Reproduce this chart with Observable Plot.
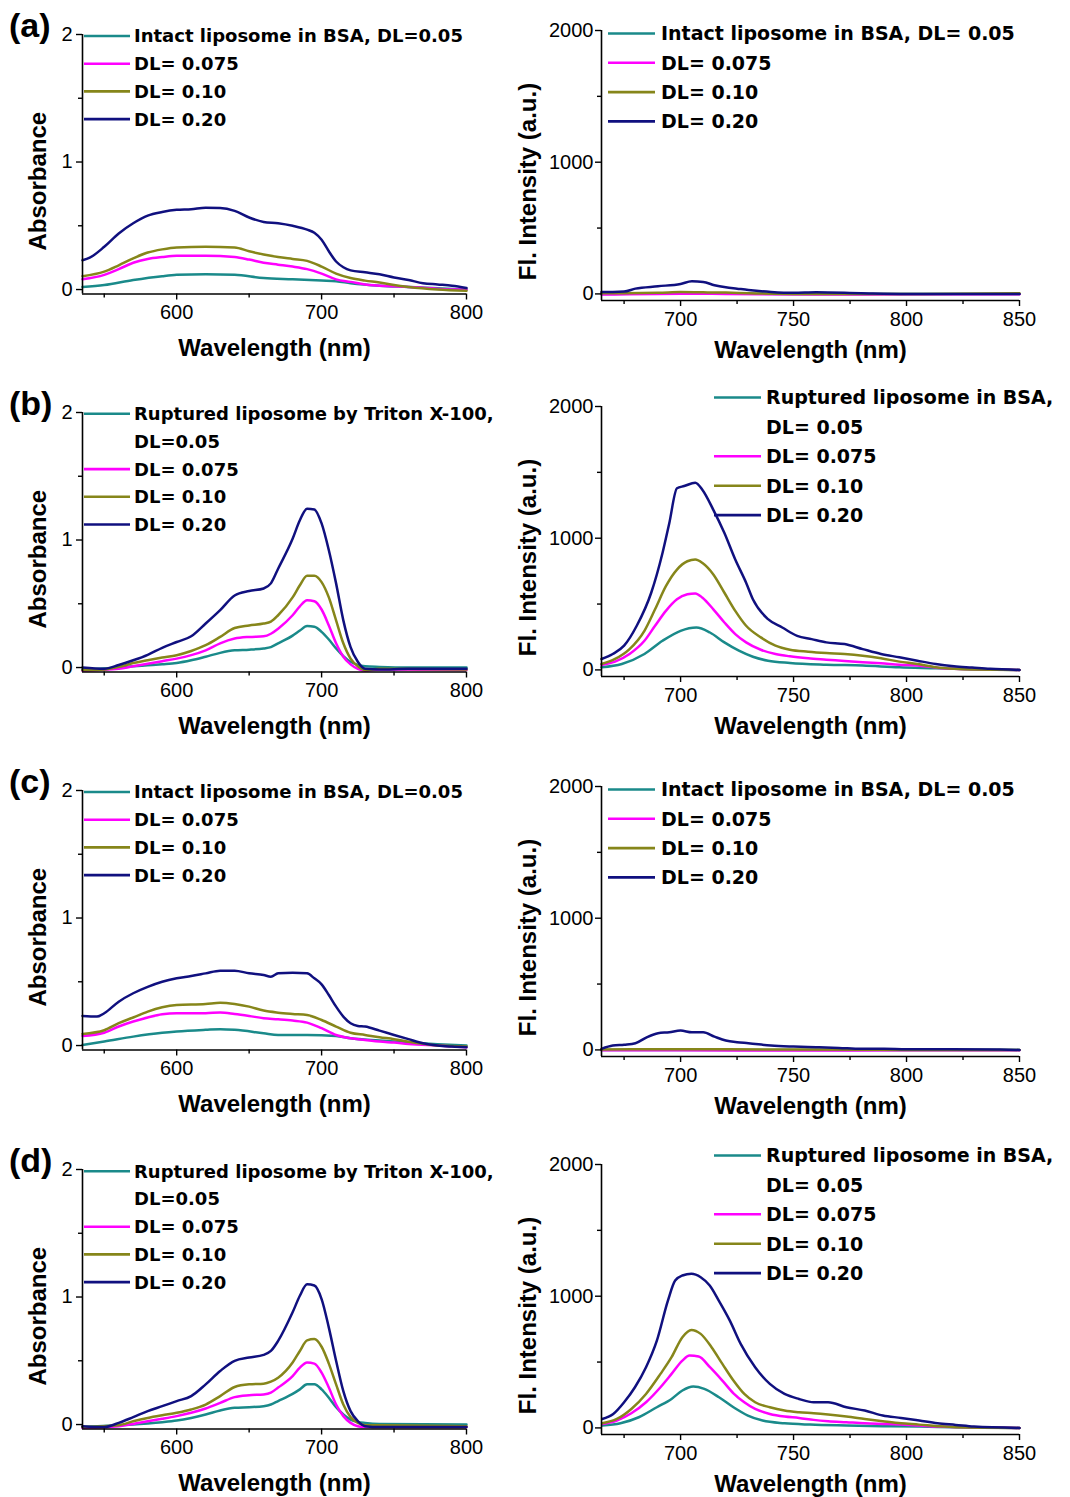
<!DOCTYPE html>
<html><head><meta charset="utf-8">
<script src="https://cdn.jsdelivr.net/npm/d3@7"></script>
<script src="https://cdn.jsdelivr.net/npm/@observablehq/plot@0.6"></script>
<style>
body{margin:0;background:#fff;}
#fig{position:relative;width:1070px;height:1497px;overflow:hidden;background:#fff;}
#fig svg{position:absolute;}
</style></head><body><div id="fig"></div>
<script>
// ---------- DATA ----------
const seriesKeys = ["DL=0.05", "DL=0.075", "DL=0.10", "DL=0.20"];
const seriesColors = ["#1a8a8a", "#ff00ff", "#86861a", "#10107f"];
const absDomainX = [535, 800];
const absDomainY = [-0.035, 2];
const absTicksX = [600, 700, 800];
const absMinorX = [550, 650, 750];
const absTicksY = [0, 1, 2];
const absMinorY = [0.5, 1.5];
const flDomainX = [665, 850];
const flDomainY = [-50, 2000];
const flTicksX = [700, 750, 800, 850];
const flMinorX = [675, 725, 775, 825];
const flTicksY = [0, 1000, 2000];
const flMinorY = [500, 1500];
const panelLetters = ["(a)", "(b)", "(c)", "(d)"];

// (a) absorbance, intact liposome in BSA
const absA_005 = [[535,0.02],[550,0.035],[570,0.075],[590,0.105],[600,0.115],[620,0.12],[640,0.115],[660,0.09],[680,0.08],[700,0.07],[710,0.065],[720,0.05],[740,0.03],[760,0.02],[780,0.01],[800,0.0]];
const absA_0075 = [[535,0.08],[550,0.115],[560,0.16],[570,0.21],[580,0.24],[590,0.255],[600,0.265],[620,0.265],[640,0.255],[650,0.235],[660,0.21],[670,0.195],[680,0.18],[690,0.16],[700,0.125],[710,0.08],[720,0.06],[730,0.04],[750,0.025],[770,0.015],[790,0.0],[800,0.0]];
const absA_010 = [[535,0.105],[550,0.14],[560,0.19],[570,0.245],[580,0.29],[590,0.315],[600,0.33],[620,0.335],[640,0.33],[650,0.3],[660,0.275],[670,0.255],[680,0.24],[690,0.225],[700,0.18],[710,0.125],[720,0.09],[730,0.07],[740,0.055],[750,0.035],[760,0.02],[780,0.0],[800,-0.01]];
const absA_020 = [[535,0.23],[540,0.25],[550,0.335],[560,0.44],[570,0.52],[580,0.58],[590,0.608],[600,0.625],[610,0.63],[620,0.642],[630,0.64],[640,0.617],[650,0.565],[660,0.53],[670,0.52],[680,0.5],[690,0.47],[695,0.445],[700,0.39],[705,0.3],[710,0.22],[715,0.175],[720,0.15],[730,0.135],[740,0.12],[750,0.095],[760,0.075],[770,0.05],[780,0.04],[790,0.03],[800,0.012]];

// (b) absorbance, ruptured by Triton X-100
const absB_005 = [[535,-0.015],[560,0.0],[570,0.01],[580,0.018],[590,0.026],[600,0.036],[610,0.057],[620,0.085],[630,0.115],[640,0.135],[650,0.14],[660,0.15],[665,0.16],[670,0.19],[680,0.25],[685,0.29],[690,0.325],[695,0.32],[700,0.28],[705,0.22],[710,0.15],[715,0.09],[720,0.045],[725,0.02],[730,0.01],[740,0.005],[760,0.0],[800,0.0]];
const absB_0075 = [[535,-0.025],[560,-0.01],[570,0.01],[580,0.03],[590,0.05],[600,0.07],[610,0.097],[620,0.135],[630,0.19],[640,0.227],[650,0.24],[660,0.245],[665,0.265],[670,0.305],[680,0.41],[685,0.48],[690,0.527],[695,0.52],[700,0.455],[705,0.33],[710,0.19],[715,0.085],[720,0.025],[725,-0.01],[730,-0.025],[740,-0.015],[800,-0.02]];
const absB_010 = [[535,-0.02],[550,-0.015],[560,0.005],[570,0.035],[580,0.057],[590,0.078],[600,0.097],[610,0.13],[620,0.175],[630,0.24],[640,0.31],[650,0.33],[660,0.345],[665,0.36],[670,0.41],[680,0.55],[685,0.645],[690,0.72],[695,0.72],[700,0.67],[705,0.55],[710,0.37],[715,0.19],[720,0.07],[725,0.01],[730,-0.02],[740,-0.01],[800,-0.015]];
const absB_020 = [[535,0.0],[550,-0.01],[560,0.02],[570,0.057],[580,0.1],[590,0.155],[600,0.2],[610,0.245],[620,0.345],[630,0.45],[640,0.565],[650,0.6],[660,0.62],[665,0.66],[670,0.775],[680,1.01],[685,1.155],[690,1.245],[695,1.24],[700,1.13],[705,0.92],[710,0.66],[715,0.37],[720,0.16],[725,0.045],[730,-0.01],[740,-0.015],[760,-0.01],[800,-0.01]];

// (c) absorbance, intact liposome in BSA
const absC_005 = [[535,0.005],[550,0.031],[570,0.07],[590,0.1],[600,0.11],[620,0.123],[630,0.128],[640,0.123],[660,0.096],[670,0.083],[690,0.083],[710,0.075],[720,0.057],[740,0.039],[760,0.023],[780,0.01],[800,0.0]];
const absC_0075 = [[535,0.075],[550,0.1],[560,0.149],[570,0.188],[580,0.22],[590,0.245],[600,0.253],[620,0.253],[630,0.26],[640,0.248],[650,0.232],[660,0.214],[670,0.206],[680,0.196],[690,0.18],[700,0.136],[710,0.083],[720,0.057],[730,0.044],[740,0.031],[750,0.023],[760,0.013],[780,0.0],[800,-0.013]];
const absC_010 = [[535,0.091],[550,0.12],[560,0.175],[570,0.22],[580,0.266],[590,0.3],[600,0.318],[620,0.326],[630,0.336],[640,0.326],[650,0.305],[660,0.274],[670,0.258],[680,0.248],[690,0.24],[700,0.2],[710,0.149],[720,0.1],[730,0.083],[740,0.065],[750,0.05],[760,0.03],[770,0.013],[780,0.0],[800,-0.008]];
const absC_020 = [[535,0.232],[545,0.227],[550,0.253],[560,0.344],[570,0.41],[580,0.46],[590,0.5],[600,0.527],[610,0.545],[620,0.566],[630,0.587],[640,0.587],[650,0.566],[660,0.553],[665,0.54],[670,0.566],[680,0.571],[690,0.566],[695,0.527],[700,0.48],[705,0.396],[710,0.305],[715,0.227],[720,0.175],[725,0.154],[730,0.149],[740,0.117],[750,0.083],[760,0.05],[770,0.018],[780,0.0],[790,-0.008],[800,-0.013]];

// (d) absorbance, ruptured by Triton X-100
const absD_005 = [[535,-0.02],[560,-0.005],[570,0.0],[580,0.008],[590,0.018],[600,0.031],[610,0.052],[620,0.079],[630,0.11],[640,0.131],[650,0.136],[660,0.144],[665,0.157],[670,0.184],[680,0.24],[685,0.276],[690,0.315],[695,0.315],[700,0.276],[705,0.21],[710,0.136],[715,0.079],[720,0.039],[725,0.021],[730,0.013],[740,0.005],[800,0.0]];
const absD_0075 = [[535,-0.026],[560,-0.013],[570,0.005],[580,0.026],[590,0.045],[600,0.066],[610,0.092],[620,0.126],[630,0.17],[640,0.215],[650,0.23],[660,0.236],[665,0.25],[670,0.29],[680,0.38],[685,0.446],[690,0.486],[695,0.478],[700,0.407],[705,0.29],[710,0.157],[715,0.066],[720,0.013],[725,-0.013],[730,-0.02],[800,-0.02]];
const absD_010 = [[535,-0.02],[560,-0.005],[570,0.026],[580,0.052],[590,0.073],[600,0.092],[610,0.118],[620,0.157],[630,0.223],[640,0.294],[650,0.315],[660,0.32],[665,0.336],[670,0.367],[680,0.486],[685,0.577],[690,0.66],[695,0.67],[700,0.61],[705,0.478],[710,0.315],[715,0.157],[720,0.058],[725,0.013],[730,-0.005],[740,-0.005],[800,-0.013]];
const absD_020 = [[535,-0.013],[550,-0.02],[560,0.013],[570,0.058],[580,0.105],[590,0.144],[600,0.184],[610,0.223],[620,0.315],[630,0.42],[640,0.5],[650,0.525],[660,0.546],[665,0.577],[670,0.656],[680,0.88],[685,1.01],[690,1.1],[695,1.09],[700,0.984],[705,0.76],[710,0.5],[715,0.262],[720,0.105],[725,0.026],[730,-0.013],[740,-0.02],[800,-0.02]];

// (a) fluorescence, intact liposome in BSA
const flA_005 = [[665,0],[700,2],[750,0],[800,0],[850,0]];
const flA_0075 = [[665,-5],[700,2],[720,0],[760,-5],[800,-3],[850,-3]];
const flA_010 = [[665,5],[690,8],[700,15],[710,12],[720,10],[730,5],[750,0],[800,0],[850,5]];
const flA_020 = [[665,15],[670,15],[675,18],[680,40],[690,58],[700,76],[705,96],[710,91],[715,66],[720,50],[725,40],[730,30],[740,15],[750,8],[760,12],[780,5],[800,0],[820,0],[850,0]];

// (b) fluorescence, ruptured liposome in BSA
const flB_005 = [[665,20],[674,45],[684,121],[692,221],[700,297],[707,322],[713,284],[719.4,209],[725.8,146],[732,100],[738.7,70],[748.4,53],[764.5,40],[780.6,33],[796.8,20],[812.9,13],[829,5],[850,0]];
const flB_0075 = [[665,38],[671,63],[677.4,121],[684,221],[688.7,335],[693.5,448],[698.4,536],[703,574],[706.5,581],[709.7,548],[714.5,460],[719.4,360],[724.2,272],[729,209],[735.5,153],[742,121],[748.4,103],[756.5,88],[764.5,78],[772.6,68],[780.6,58],[788.7,50],[796.8,40],[804.8,33],[812.9,18],[821,8],[850,0]];
const flB_010 = [[665,45],[671,83],[677.4,158],[684,297],[688.7,460],[693.5,636],[698.4,762],[703,825],[706.5,838],[709.7,812],[714.5,725],[719.4,586],[724.2,448],[729,335],[735.5,247],[742,184],[748.4,153],[756.5,138],[764.5,128],[772.6,121],[780.6,108],[788.7,88],[796.8,63],[804.8,45],[812.9,20],[821,8],[829,3],[850,0]];
const flB_020 = [[665,83],[670,121],[675,184],[680.6,335],[687,586],[692,888],[695,1114],[698.4,1379],[701.6,1396],[706.5,1421],[709.7,1366],[714.5,1215],[719.4,1039],[724.2,838],[729,662],[732,536],[738.7,385],[745,322],[751.6,259],[758,234],[764.5,209],[772.6,196],[780.6,158],[788.7,121],[796.8,96],[804.8,70],[812.9,45],[821,28],[829,18],[837,8],[850,0]];

// (c) fluorescence, intact liposome in BSA
const flC_005 = [[665,0],[700,0],[800,0],[850,0]];
const flC_0075 = [[665,-3],[700,-3],[750,-5],[800,-3],[850,-3]];
const flC_010 = [[665,3],[700,5],[750,3],[800,0],[850,0]];
const flC_020 = [[665,8],[670,33],[675,40],[680,51],[685,96],[690,127],[695,134],[700,147],[705,134],[710,134],[715,101],[720,71],[725,58],[730,51],[740,33],[750,25],[760,20],[770,15],[780,8],[790,8],[800,5],[820,5],[840,3],[850,0]];

// (d) fluorescence, ruptured liposome in BSA
const flD_005 = [[665.3,18],[673.4,35],[681.5,81],[689.5,157],[696,220],[700.8,284],[705.6,314],[710.5,296],[717,233],[723.4,157],[729.8,94],[736.3,56],[746,35],[757.3,25],[773.4,18],[789.5,13],[805.6,10],[821.8,5],[850,0]];
const flD_0075 = [[665.3,30],[671.8,56],[678.2,111],[684.7,195],[691.1,309],[696,410],[700.8,511],[704,549],[708,542],[713,461],[718.5,359],[723.4,263],[728.2,195],[733,144],[739.5,106],[746,86],[752.4,76],[758.9,61],[765.3,51],[773.4,43],[781.5,35],[789.5,30],[797.6,25],[805.6,18],[813.7,10],[850,0]];
const flD_010 = [[665.3,35],[671.8,68],[678.2,144],[684.7,258],[691.1,410],[696,537],[700.8,689],[704.8,744],[708.9,714],[713.7,613],[718.5,486],[723.4,360],[728.2,258],[733,195],[739.5,157],[746,132],[752.4,119],[758.9,111],[765.3,101],[773.4,86],[781.5,68],[789.5,51],[797.6,35],[805.6,25],[813.7,13],[821.8,5],[850,0]];
const flD_020 = [[665.3,68],[670.2,106],[675,195],[679.8,309],[684.7,461],[689.5,663],[694.4,967],[697.6,1119],[700.8,1157],[704.8,1170],[708.9,1144],[712.9,1081],[716.9,967],[721.8,815],[726.6,638],[733,461],[739.5,334],[746,258],[752.4,220],[758.9,195],[765.3,195],[773.4,157],[781.5,132],[789.5,94],[797.6,76],[805.6,56],[813.7,35],[821.8,23],[829.8,10],[850,0]];

// legend texts
const legendIntactAbs = [["Intact liposome in BSA, DL=0.05"], ["DL= 0.075"], ["DL= 0.10"], ["DL= 0.20"]];
const legendIntactFl = [["Intact liposome in BSA, DL= 0.05"], ["DL= 0.075"], ["DL= 0.10"], ["DL= 0.20"]];
const legendTritonAbs = [["Ruptured liposome by Triton X-100,", "DL=0.05"], ["DL= 0.075"], ["DL= 0.10"], ["DL= 0.20"]];
const legendRupturedFl = [["Ruptured liposome in BSA,", "DL= 0.05"], ["DL= 0.075"], ["DL= 0.10"], ["DL= 0.20"]];

const labelAbsY = "Absorbance";
const labelFlY = "Fl. Intensity (a.u.)";
const labelX = "Wavelength (nm)";

// ---------- DRAW ----------
const fig = document.getElementById("fig");
const TL = [34, 411.7, 790, 1169.3];
const TR = [30, 406, 786, 1164];

function toRows(seriesList) {
  return seriesList.flatMap((pts, i) => pts.map(([x, y]) => ({x, y, k: seriesKeys[i]})));
}

function panel(opts) {
  const {series, left, top, ml, frameW, frameH, mr, domX, domY, ticksX, minorX, ticksY, minorY, ylabel, ylabelDx, ylabelDy, xlabelDy, ytickPad} = opts;
  const mt = 20, mb = 80;
  const rows = toRows(series);
  const p = Plot.plot({
    width: ml + frameW + mr,
    height: mt + frameH + mb,
    marginTop: mt, marginBottom: mb, marginLeft: ml, marginRight: mr,
    style: {fontFamily: "'Liberation Sans', Arial, sans-serif", fontSize: "20px", color: "#000", background: "transparent", overflow: "visible"},
    x: {domain: domX},
    y: {domain: domY},
    color: {domain: seriesKeys, range: seriesColors},
    marks: [
      Plot.line(rows, {x: "x", y: "y", z: "k", stroke: "k", strokeWidth: 2.5, curve: "monotone-x"}),
      Plot.ruleX([domX[0]], {stroke: "#000", strokeWidth: 1.6}),
      Plot.ruleY([domY[0]], {stroke: "#000", strokeWidth: 1.6}),
      Plot.axisX(ticksX, {tickSize: 6, tickPadding: 5, strokeWidth: 1.4, label: null, fontSize: 20, tickFormat: d => String(d)}),
      Plot.axisX(minorX, {tickSize: 4, strokeWidth: 1.4, label: null, tickFormat: () => ""}),
      Plot.axisY(ticksY, {tickSize: 6, tickPadding: ytickPad, strokeWidth: 1.4, label: null, fontSize: 20, tickFormat: d => String(d)}),
      Plot.axisY(minorY, {tickSize: 4, strokeWidth: 1.4, label: null, tickFormat: () => ""}),
      Plot.text([labelX], {text: d => d, frameAnchor: "bottom", textAnchor: "middle", lineAnchor: "bottom", dy: xlabelDy, fontSize: 24, fontWeight: "bold", fill: "#000"}),
      Plot.text([ylabel], {text: d => d, frameAnchor: "left", textAnchor: "middle", rotate: -90, lineAnchor: "middle", dx: ylabelDx, dy: ylabelDy, fontSize: 24, fontWeight: "bold", fill: "#000"})
    ]
  });
  p.style.left = left + "px";
  p.style.top = (top - mt) + "px";
  fig.appendChild(p);
}

const absSeries = [[absA_005, absA_0075, absA_010, absA_020], [absB_005, absB_0075, absB_010, absB_020], [absC_005, absC_0075, absC_010, absC_020], [absD_005, absD_0075, absD_010, absD_020]];
const flSeries = [[flA_005, flA_0075, flA_010, flA_020], [flB_005, flB_0075, flB_010, flB_020], [flC_005, flC_0075, flC_010, flC_020], [flD_005, flD_0075, flD_010, flD_020]];

for (let r = 0; r < 4; r++) {
  panel({series: absSeries[r], left: 0, top: TL[r], ml: 82, frameW: 384, frameH: 259.5, mr: 34,
    domX: absDomainX, domY: absDomainY, ticksX: absTicksX, minorX: absMinorX, ticksY: absTicksY, minorY: absMinorY,
    ylabel: labelAbsY, ylabelDx: -44.5, ylabelDy: 17, xlabelDy: 62, ytickPad: 4});
  panel({series: flSeries[r], left: 500, top: TR[r], ml: 101, frameW: 418, frameH: 270, mr: 40,
    domX: flDomainX, domY: flDomainY, ticksX: flTicksX, minorX: flMinorX, ticksY: flTicksY, minorY: flMinorY,
    ylabel: labelFlY, ylabelDx: -73.5, ylabelDy: 16, xlabelDy: 57, ytickPad: 2});
}

// overlay: legends + panel letters
const ov = d3.create("svg").attr("width", 1070).attr("height", 1497).style("left", "0px").style("top", "0px").style("pointer-events", "none");
function legend(entries, x1, x2, tx, y0, step, fs) {
  let row = 0;
  entries.forEach((lines, i) => {
    const y = y0 + row * step;
    ov.append("line").attr("x1", x1).attr("x2", x2).attr("y1", y).attr("y2", y)
      .attr("stroke", seriesColors[i]).attr("stroke-width", 2.6);
    lines.forEach((t, j) => {
      ov.append("text").attr("x", tx).attr("y", y + j * step).attr("dy", "0.36em")
        .attr("font-family", "'DejaVu Sans', Verdana, sans-serif").attr("font-weight", "bold")
        .attr("font-size", fs).attr("fill", "#000").text(t);
    });
    row += lines.length;
  });
}
const leftLegends = [legendIntactAbs, legendTritonAbs, legendIntactAbs, legendTritonAbs];
const rightLegends = [legendIntactFl, legendRupturedFl, legendIntactFl, legendRupturedFl];
for (let r = 0; r < 4; r++) {
  legend(leftLegends[r], 84, 130, 134, TL[r] + 2, 27.7, 18);
  if (r % 2 === 0) legend(rightLegends[r], 608, 655, 661, TR[r] + 3.5, 29.3, 19);
  else legend(rightLegends[r], 714, 761, 766, TR[r] - 8.5, 29.4, 19);
  ov.append("text").attr("x", 9).attr("y", TL[r] + 3).attr("font-family", "'Liberation Sans', Arial, sans-serif")
    .attr("font-weight", "bold").attr("font-size", 34).attr("fill", "#000").text(panelLetters[r]);
}
fig.appendChild(ov.node());
</script></body></html>
